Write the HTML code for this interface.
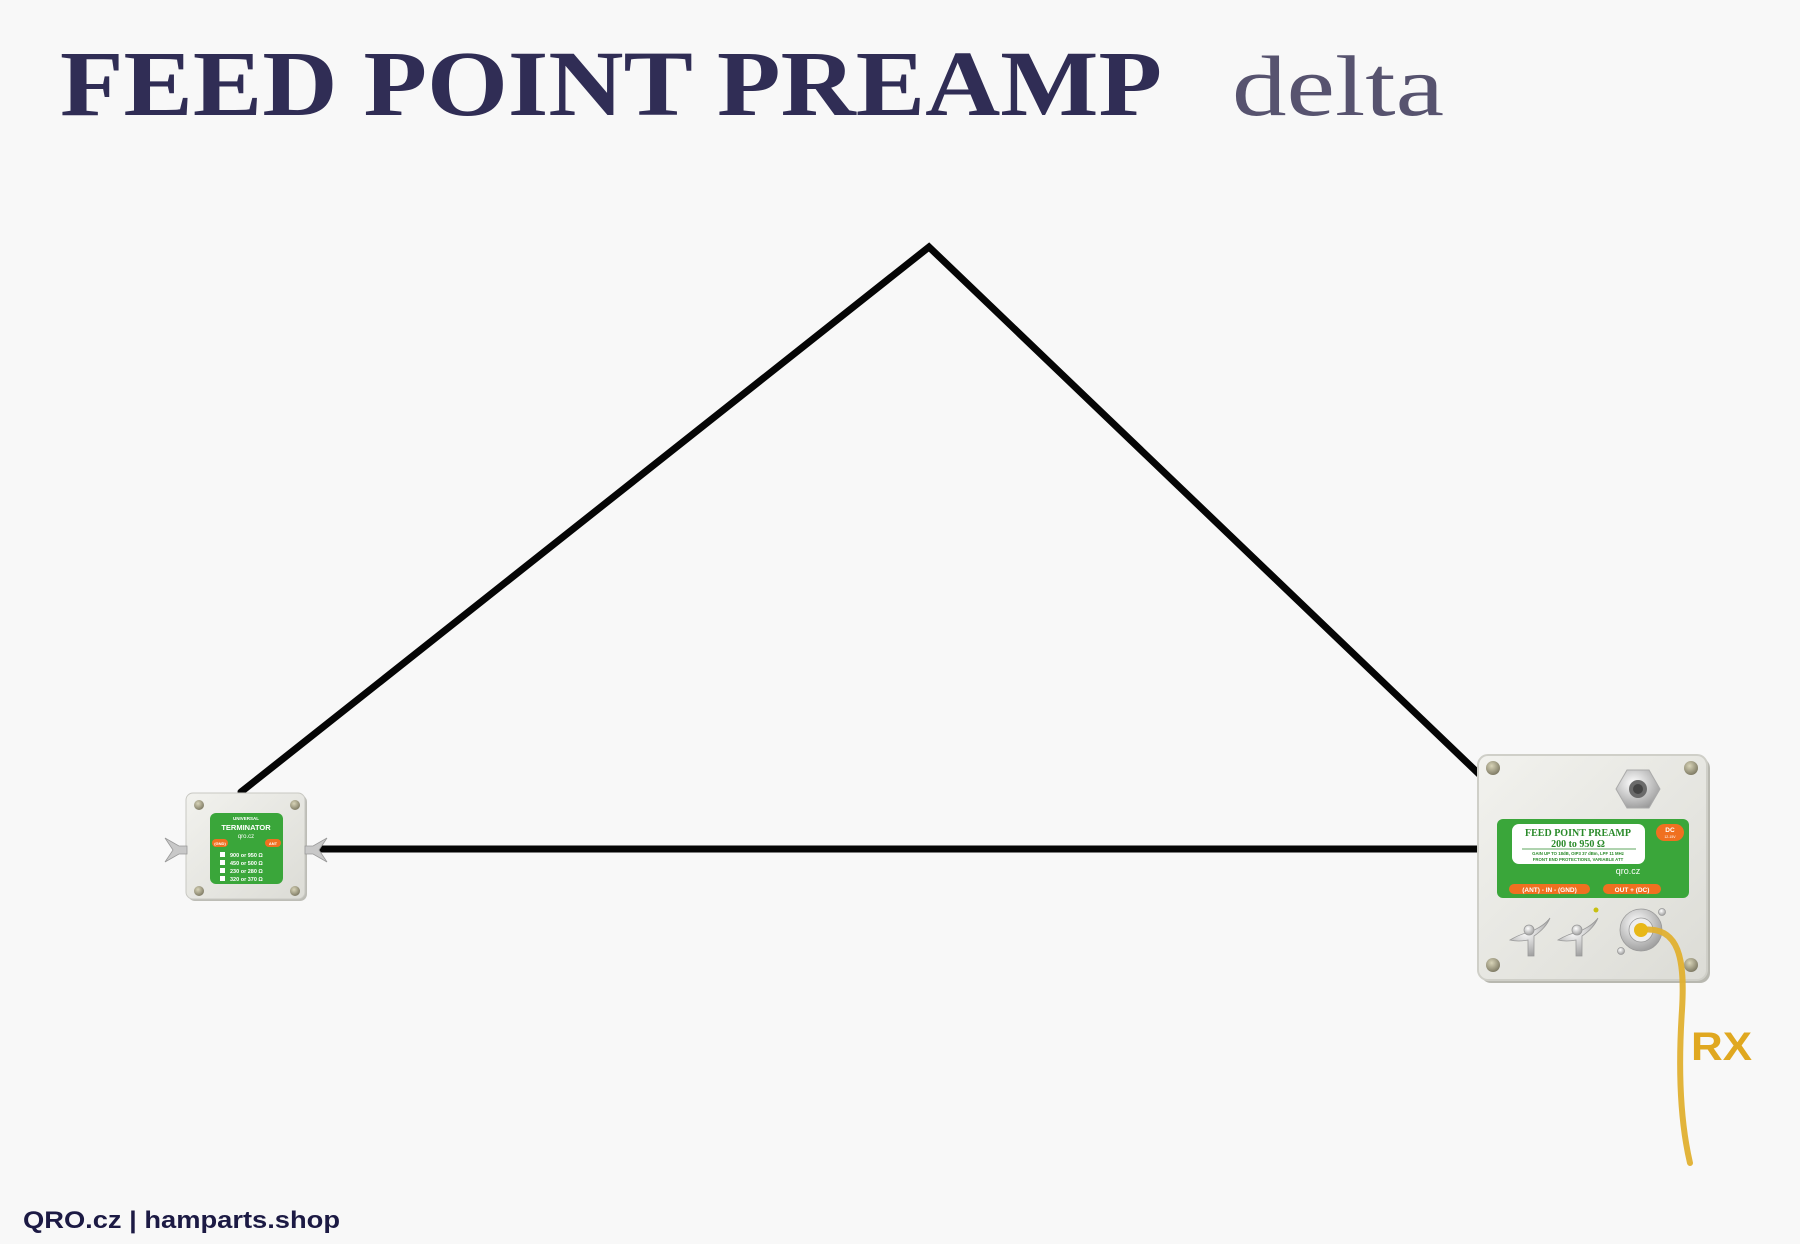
<!DOCTYPE html>
<html><head><meta charset="utf-8"><style>
html,body{margin:0;padding:0;background:#f8f8f8;}
svg{display:block;}
text{font-family:"Liberation Sans",sans-serif;}
</style></head><body>
<svg width="1800" height="1244" viewBox="0 0 1800 1244" xmlns="http://www.w3.org/2000/svg">
<defs>
<linearGradient id="box" x1="0" y1="0" x2="1" y2="1"><stop offset="0" stop-color="#f2f2ee"/><stop offset="1" stop-color="#dcdcd6"/></linearGradient>
<radialGradient id="screw" cx="0.4" cy="0.35" r="0.7"><stop offset="0" stop-color="#d8d4b8"/><stop offset="1" stop-color="#7a7660"/></radialGradient>
<radialGradient id="metal" cx="0.4" cy="0.35" r="0.7"><stop offset="0" stop-color="#ffffff"/><stop offset="1" stop-color="#9a9a9a"/></radialGradient>
</defs>
<rect width="1800" height="1244" fill="#f8f8f8"/>
<text x="60" y="115" font-weight="bold" font-size="93" fill="#302d55" textLength="1102" lengthAdjust="spacingAndGlyphs" style="font-family:'Liberation Serif',serif">FEED POINT PREAMP</text>
<text x="1232" y="115" font-size="86" fill="#57536f" textLength="212" lengthAdjust="spacingAndGlyphs" style="font-family:'Liberation Serif',serif">delta</text>

<g stroke="#050505" stroke-width="7" fill="none" stroke-linecap="round">
<polyline points="241,792 929,247 1480,775"/>
<line x1="322" y1="849" x2="1480" y2="849"/>
</g>

<!-- small terminator box -->
<rect x="188" y="795" width="119" height="106" rx="7" fill="#bdbdb6"/>
<rect x="186" y="793" width="119" height="106" rx="7" fill="url(#box)" stroke="#c8c8c2"/>
<rect x="210" y="813" width="73" height="71" rx="6" fill="#3aa63a"/>
<text x="246" y="820" font-size="4.5" font-weight="bold" fill="#fff" text-anchor="middle">UNIVERSAL</text>
<text x="246" y="830" font-size="7.5" font-weight="bold" fill="#fff" text-anchor="middle">TERMINATOR</text>
<text x="246" y="838" font-size="6" fill="#fff" text-anchor="middle">qro.cz</text>
<rect x="212" y="839" width="16" height="8" rx="4" fill="#f07020"/>
<text x="220" y="845" font-size="4" font-weight="bold" fill="#fff" text-anchor="middle">(GND)</text>
<rect x="265" y="839" width="16" height="8" rx="4" fill="#f07020"/>
<text x="273" y="845" font-size="4" font-weight="bold" fill="#fff" text-anchor="middle">ANT</text>
<g font-size="5.5" font-weight="bold" fill="#fff">
<rect x="220" y="852" width="5" height="5" fill="#fff"/><text x="230" y="857">900 or 950 Ω</text>
<rect x="220" y="860" width="5" height="5" fill="#fff"/><text x="230" y="865">450 or 500 Ω</text>
<rect x="220" y="868" width="5" height="5" fill="#fff"/><text x="230" y="873">230 or 280 Ω</text>
<rect x="220" y="876" width="5" height="5" fill="#fff"/><text x="230" y="881">320 or 370 Ω</text>
</g>
<g fill="url(#screw)"><circle cx="199" cy="805" r="5"/><circle cx="295" cy="805" r="5"/><circle cx="199" cy="891" r="5"/><circle cx="295" cy="891" r="5"/></g>
<g fill="#c8c8c8" stroke="#999" stroke-width="0.8">
<path d="M165,838 l14,8 h8 v8 h-8 l-14,8 l8,-12 z"/>
<path d="M327,838 l-14,8 h-8 v8 h8 l14,8 l-8,-12 z"/>
</g>

<!-- big preamp box -->
<rect x="1481" y="758" width="229" height="225" rx="10" fill="#b8b8b0"/>
<rect x="1478" y="755" width="229" height="225" rx="10" fill="url(#box)" stroke="#cfcfc8" stroke-width="2"/>
<polygon points="1627,770 1649,770 1660,789 1649,808 1627,808 1616,789" fill="url(#metal)" stroke="#aaa"/>
<circle cx="1638" cy="789" r="9" fill="#6a6a6a"/><circle cx="1638" cy="789" r="5" fill="#444"/>
<rect x="1497" y="819" width="192" height="79" rx="6" fill="#3aa63a"/>
<rect x="1512" y="824" width="133" height="40" rx="7" fill="#fff"/>
<text x="1578" y="836" font-size="10" font-weight="bold" fill="#2a8a2a" text-anchor="middle" style="font-family:'Liberation Serif',serif">FEED POINT PREAMP</text>
<text x="1578" y="847" font-size="10" font-weight="bold" fill="#2a8a2a" text-anchor="middle" style="font-family:'Liberation Serif',serif">200 to 950 Ω</text>
<line x1="1522" y1="849" x2="1636" y2="849" stroke="#2a8a2a" stroke-width="0.8"/>
<text x="1578" y="855" font-size="4.3" font-weight="bold" fill="#2a8a2a" text-anchor="middle">GAIN UP TO 18dB, OIP3 37 dBm, LPF 11 MHz</text>
<text x="1578" y="861" font-size="4.3" font-weight="bold" fill="#2a8a2a" text-anchor="middle">FRONT END PROTECTIONS, VARIABLE ATT</text>
<text x="1628" y="874" font-size="9" fill="#fff" text-anchor="middle">qro.cz</text>
<rect x="1656" y="824" width="28" height="17" rx="8.5" fill="#f07020"/>
<text x="1670" y="832" font-size="6.5" font-weight="bold" fill="#fff" text-anchor="middle">DC</text>
<text x="1670" y="838" font-size="3.5" fill="#fff" text-anchor="middle">12-15V</text>
<rect x="1509" y="884" width="81" height="10" rx="5" fill="#f07020"/>
<text x="1549.5" y="892" font-size="6.5" font-weight="bold" fill="#fff" text-anchor="middle">(ANT) - IN - (GND)</text>
<rect x="1603" y="884" width="58" height="10" rx="5" fill="#f07020"/>
<text x="1632" y="892" font-size="6.5" font-weight="bold" fill="#fff" text-anchor="middle">OUT + (DC)</text>
<circle cx="1596" cy="910" r="2.5" fill="#c8c010"/>
<g fill="url(#metal)" stroke="#999" stroke-width="0.8">
<path d="M1510,940 q10,-6 20,-8 q14,-6 20,-14 q-4,10 -16,18 v20 h-6 v-16 q-10,2 -18,0 z"/>
<circle cx="1529" cy="930" r="5"/>
<path d="M1558,940 q10,-6 20,-8 q14,-6 20,-14 q-4,10 -16,18 v20 h-6 v-16 q-10,2 -18,0 z"/>
<circle cx="1577" cy="930" r="5"/>
<circle cx="1641" cy="930" r="21"/>
<circle cx="1641" cy="930" r="12" fill="#eee"/>
<circle cx="1662" cy="912" r="3.5"/>
<circle cx="1621" cy="951" r="3.5"/>
</g>
<g fill="url(#screw)"><circle cx="1493" cy="768" r="7"/><circle cx="1691" cy="768" r="7"/><circle cx="1493" cy="965" r="7"/><circle cx="1691" cy="965" r="7"/></g>
<path d="M1641,930 C1680,925 1685,960 1682,1010 C1678,1070 1680,1120 1690,1163" fill="none" stroke="#e0b030" stroke-width="6" stroke-linecap="round" opacity="0.95"/>
<circle cx="1641" cy="930" r="7" fill="#e8b818"/>
<text x="1691" y="1060" font-size="40" font-weight="bold" fill="#e0a820" textLength="61" lengthAdjust="spacingAndGlyphs">RX</text>

<text x="23" y="1228" font-size="24" font-weight="bold" fill="#1c1a44" textLength="317" lengthAdjust="spacingAndGlyphs">QRO.cz | hamparts.shop</text>
</svg>
</body></html>
